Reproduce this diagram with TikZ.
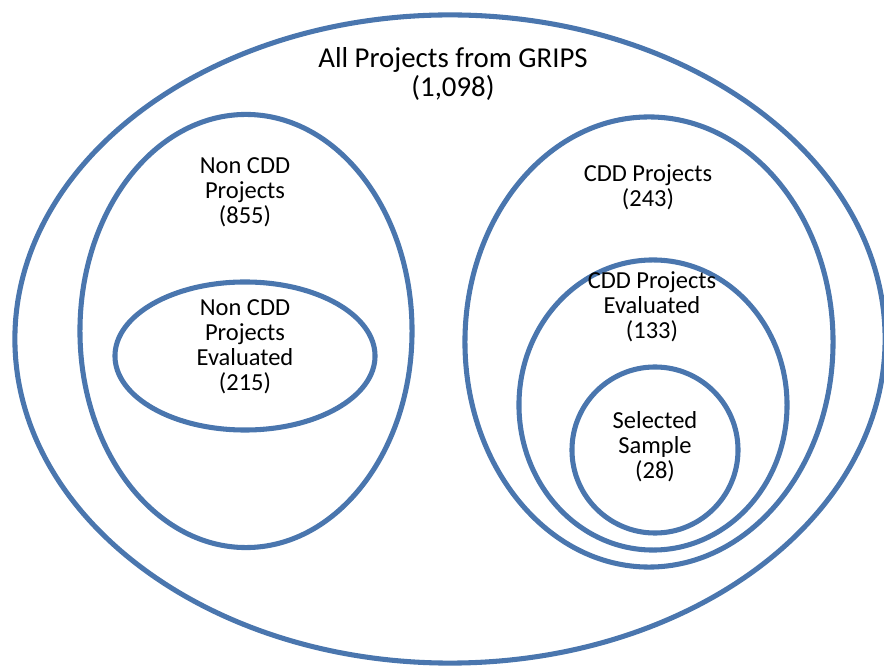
\documentclass[tikz,border=0pt]{standalone}
\usepackage{fontspec}
\setmainfont{Carlito}
\usetikzlibrary{shapes.geometric, positioning}
\definecolor{setblue}{RGB}{74,118,174}

\begin{document}
\begin{tikzpicture}[x=0.025cm, y=-0.025cm,
    set/.style={ellipse, draw=setblue, line width=3.6pt, inner sep=0pt},
    lbl/.style={align=center, font=\fontsize{17.4}{17.8}\selectfont}]
    \useasboundingbox (0,0) rectangle (884,668);

    % sets
    \node[set, minimum width=21.75cm, minimum height=16.2cm] (all) at (450,339) {};
    \node[set, minimum width=8.3cm, minimum height=10.825cm] (noncdd) at (246,331) {};
    \node[set, minimum width=6.5cm, minimum height=3.7cm] (noncddev) at (245,356) {};
    \node[set, minimum width=9.2cm, minimum height=11.25cm] (cdd) at (649,342) {};
    \node[set, minimum width=6.7cm, minimum height=7.25cm] (cddev) at (653,405) {};
    \node[set, minimum width=4.15cm, minimum height=4.15cm] (sample) at (655,450) {};

    % labels
    \node[lbl, font=\fontsize{20.5}{21.3}\selectfont] (allL) at (453,74) {All Projects from GRIPS\\(1,098)};
    \node[lbl] (noncddL) at (245,192) {Non CDD\\Projects\\(855)};
    \node[lbl] (noncddevL) at (245,347) {Non CDD\\Projects\\Evaluated\\(215)};
    \node[lbl] (cddL) at (648,187) {CDD Projects\\(243)};
    \node[lbl] (cddevL) at (652,307) {CDD Projects\\Evaluated\\(133)};
    \node[lbl] (sampleL) at (655,447) {Selected\\Sample\\(28)};
\end{tikzpicture}
\end{document}
